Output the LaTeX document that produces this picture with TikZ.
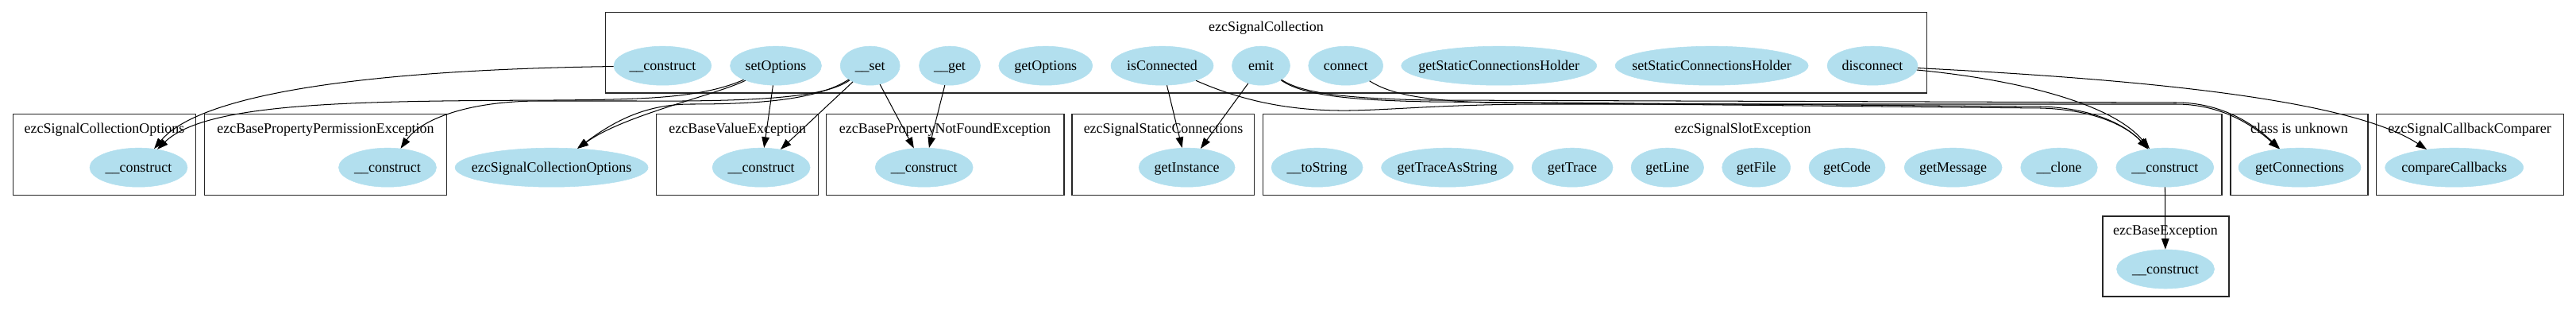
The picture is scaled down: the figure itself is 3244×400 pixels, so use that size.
\documentclass[tikz,border=0pt]{standalone}
\usepackage{fontspec}
\setmainfont{Liberation Serif}
\usetikzlibrary{shapes.geometric,arrows.meta}
\definecolor{nodeblue}{HTML}{B2DFEE}
\newcommand\gvfont{\fontsize{13.2}{15}\selectfont}
\tikzset{
  meth/.style={ellipse, fill=nodeblue, draw=nodeblue, minimum height=49*0.735pt,
    minimum width=#1*0.735pt, inner xsep=-30pt, inner ysep=0pt,
    text height=9.4pt, text depth=1.2pt, font=\gvfont},
  ctitle/.style={anchor=base, inner sep=0pt, font=\gvfont},
  clusterbox/.style={draw=black!85, line width=0.8pt},
  callarrow/.style={draw, line width=0.75pt, -{Triangle[length=10pt,width=7pt]}}
}
\begin{document}
\begin{tikzpicture}[x=0.735pt,y=-0.735pt]
\useasboundingbox (0,0) rectangle (3244,400);
% ---------- clusters ----------
\draw[clusterbox] (762.6,15.7) rectangle (2426.3,117);
\node[ctitle] (t_sc) at (1594.5,40) {ezcSignalCollection};
\draw[clusterbox] (16.2,143.7) rectangle (246.3,245.3);
\node[ctitle] (t_sco) at (131.5,167.5) {ezcSignalCollectionOptions};
\draw[clusterbox] (257.3,143.7) rectangle (562.8,245.3);
\node[ctitle] (t_bppe) at (410,167.5) {ezcBasePropertyPermissionException};
\draw[clusterbox] (826.4,143.7) rectangle (1030.4,245.3);
\node[ctitle] (t_bve) at (928.7,167.5) {ezcBaseValueException};
\draw[clusterbox] (1040.9,143.7) rectangle (1340,245.3);
\node[ctitle] (t_bpnfe) at (1190,167.5) {ezcBasePropertyNotFoundException};
\draw[clusterbox] (1350,143.7) rectangle (1579.6,245.3);
\node[ctitle] (t_ssc) at (1465,167.5) {ezcSignalStaticConnections};
\draw[clusterbox] (1590.6,143.7) rectangle (2798,245.3);
\node[ctitle] (t_sse) at (2194.7,167.5) {ezcSignalSlotException};
\draw[clusterbox] (2809,143.7) rectangle (2982,245.3);
\node[ctitle] (t_unk) at (2895.4,167.5) {class is unknown};
\draw[clusterbox] (2992.5,143.7) rectangle (3228.6,245.3);
\node[ctitle] (t_scc) at (3110,167.5) {ezcSignalCallbackComparer};
\draw[clusterbox] (2648,272) rectangle (2807,373);
\node[ctitle] (t_be) at (2727,295.2) {ezcBaseException};
% ---------- top row ----------
\node[meth=123] (sc_construct) at (834.4,82.7) {\_\_construct};
\node[meth=115] (sc_setOptions) at (977,82.7) {setOptions};
\node[meth=75] (sc_set) at (1095.7,82.7) {\_\_set};
\node[meth=77] (sc_get) at (1196,82.7) {\_\_get};
\node[meth=118] (sc_getOptions) at (1316.8,82.7) {getOptions};
\node[meth=129] (sc_isConnected) at (1463.5,82.7) {isConnected};
\node[meth=73] (sc_emit) at (1588,82.7) {emit};
\node[meth=94] (sc_connect) at (1694.7,82.7) {connect};
\node[meth=246] (sc_getSCH) at (1887.7,82.7) {getStaticConnectionsHolder};
\node[meth=243] (sc_setSCH) at (2155.6,82.7) {setStaticConnectionsHolder};
\node[meth=114] (sc_disconnect) at (2358,82.7) {disconnect};
% ---------- second row ----------
\node[meth=123] (sco_construct) at (174.5,210.7) {\_\_construct};
\node[meth=123] (bppe_construct) at (488,210.7) {\_\_construct};
\node[meth=243] (sco) at (694.6,210.7) {ezcSignalCollectionOptions};
\node[meth=123] (bve_construct) at (958.6,210.7) {\_\_construct};
\node[meth=123] (bpnfe_construct) at (1163.7,210.7) {\_\_construct};
\node[meth=121] (ssc_getInstance) at (1494.6,210.7) {getInstance};
\node[meth=115] (sse_toString) at (1658.6,210.7) {\_\_toString};
\node[meth=166] (sse_getTraceAsString) at (1822.6,210.7) {getTraceAsString};
\node[meth=102] (sse_getTrace) at (1980,210.7) {getTrace};
\node[meth=91.5] (sse_getLine) at (2099.8,210.7) {getLine};
\node[meth=86] (sse_getFile) at (2211.7,210.7) {getFile};
\node[meth=96] (sse_getCode) at (2326,210.7) {getCode};
\node[meth=123] (sse_getMessage) at (2459.6,210.7) {getMessage};
\node[meth=96.5] (sse_clone) at (2593,210.7) {\_\_clone};
\node[meth=123] (sse_construct) at (2726.3,210.7) {\_\_construct};
\node[meth=154] (unk_getConnections) at (2896,210.7) {getConnections};
\node[meth=174] (scc_compare) at (3090.6,210.7) {compareCallbacks};
% ---------- third row ----------
\node[meth=123] (be_construct) at (2727,338.5) {\_\_construct};
% ---------- edges ----------
\path[callarrow] (sc_construct) .. controls (450,88) and (250,120) .. (sco_construct);
\path[callarrow] (sc_setOptions) .. controls (880,125) and (800,125) .. (700,126) .. controls (450,127) and (260,128) .. (sco_construct);
\path[callarrow] (sc_set) .. controls (1040,122) and (960,128) .. (800,127) -- (680,127) .. controls (590,127) and (530,150) .. (bppe_construct);
\path[callarrow] (sc_setOptions) .. controls (900,120) and (785,145) .. (sco);
\path[callarrow] (sc_set) .. controls (1030,125) and (960,131) .. (870,131) .. controls (810,131) and (770,155) .. (sco);
\path[callarrow] (sc_setOptions) -- (bve_construct);
\path[callarrow] (sc_set) -- (bve_construct);
\path[callarrow] (sc_set) -- (bpnfe_construct);
\path[callarrow] (sc_get) -- (bpnfe_construct);
\path[callarrow] (sc_isConnected) -- (ssc_getInstance);
\path[callarrow] (sc_emit) -- (ssc_getInstance);
\path[callarrow] (sc_isConnected) .. controls (1560,125) and (1620,140) .. (1700,139) .. controls (1760,138) and (1820,131) .. (1950,131) -- (2740,131) .. controls (2800,131) and (2840,160) .. (unk_getConnections);
\path[callarrow] (sc_emit) .. controls (1640,118) and (1700,124) .. (1800,126) -- (2740,129) .. controls (2800,129) and (2840,158) .. (unk_getConnections);
\path[callarrow] (sc_emit) .. controls (1640,120) and (1700,126) .. (1800,128) -- (2570,134) .. controls (2640,136) and (2680,160) .. (sse_construct);
\path[callarrow] (sc_connect) .. controls (1750,118) and (1790,126) .. (1870,129) -- (2570,136) .. controls (2640,138) and (2680,160) .. (sse_construct);
\path[callarrow] (sc_disconnect) .. controls (2540,100) and (2660,130) .. (sse_construct);
\path[callarrow] (sc_disconnect) .. controls (2700,100) and (2960,125) .. (scc_compare);
\path[callarrow] (sse_construct) -- (be_construct);
\end{tikzpicture}
\end{document}
